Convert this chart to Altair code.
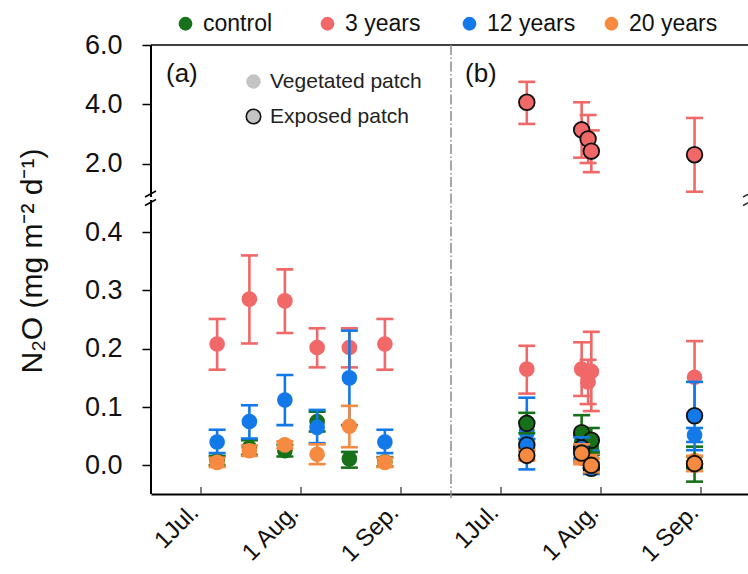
import json
import altair as alt
import pandas as pd

FONT = "Liberation Sans"

SERIES = ["control", "3 years", "12 years", "20 years"]
COLORS = ["#17701a", "#f06868", "#1479e8", "#f68a40"]
PATCHES = ["Vegetated patch", "Exposed patch"]
PATCH_STROKES = ["transparent", "#111111"]

# ---------------- panel (a): vegetated patches ----------------
a_dates = ["07-06", "07-16", "07-27", "08-06", "08-16", "08-27"]
a_control = [0.008, 0.030, 0.025, 0.075, 0.011, 0.006]
a_control_lo = [0.000, 0.018, 0.015, 0.058, -0.004, -0.002]
a_control_hi = [0.016, 0.043, 0.035, 0.092, 0.023, 0.014]
a_3y = [0.208, 0.285, 0.282, 0.202, 0.202, 0.208]
a_3y_lo = [0.164, 0.209, 0.227, 0.168, 0.168, 0.164]
a_3y_hi = [0.251, 0.360, 0.336, 0.235, 0.235, 0.251]
a_12y = [0.040, 0.075, 0.112, 0.065, 0.150, 0.040]
a_12y_lo = [0.021, 0.046, 0.069, 0.038, 0.069, 0.021]
a_12y_hi = [0.061, 0.103, 0.155, 0.095, 0.231, 0.061]
a_20y = [0.005, 0.025, 0.035, 0.019, 0.067, 0.005]
a_20y_lo = [-0.003, 0.016, 0.029, 0.002, 0.031, -0.003]
a_20y_hi = [0.013, 0.034, 0.041, 0.036, 0.102, 0.013]

# ---------------- panel (b): vegetated and exposed patches ----------------
b_dates = ["07-09", "07-09", "07-09", "07-09", "07-26", "07-26", "07-26", "07-26",
           "07-28", "07-29", "07-29", "07-29", "07-29", "08-30", "08-30", "08-30", "08-30",
           "07-09", "07-09", "07-09", "07-09", "07-26", "07-26", "07-26", "07-26",
           "07-28", "07-29", "07-29", "07-29", "07-29", "08-30", "08-30", "08-30", "08-30"]
b_series = ["control", "3 years", "12 years", "20 years", "control", "3 years", "12 years", "20 years",
            "3 years", "control", "3 years", "12 years", "20 years", "control", "3 years", "12 years", "20 years",
            "control", "3 years", "12 years", "20 years", "control", "3 years", "12 years", "20 years",
            "3 years", "control", "3 years", "12 years", "20 years", "control", "3 years", "12 years", "20 years"]
b_patch = ["Vegetated patch"] * 17 + ["Exposed patch"] * 17
b_mean = [0.060, 0.165, 0.055, 0.020, 0.040, 0.165, 0.022, 0.012,
          0.143, 0.030, 0.161, 0.010, 0.008, 0.005, 0.151, 0.052, 0.008,
          0.072, 4.07, 0.035, 0.017, 0.056, 3.14, 0.030, 0.021,
          2.83, 0.043, 2.42, -0.005, 0.000, 0.002, 2.30, 0.085, 0.003]
b_lo = [0.045, 0.123, -0.007, 0.010, 0.028, 0.119, 0.008, 0.002,
        0.105, 0.018, 0.093, -0.005, -0.004, -0.005, 0.089, 0.040, 0.000,
        0.055, 3.34, 0.025, 0.008, 0.027, 2.20, 0.012, 0.006,
        2.02, 0.022, 1.71, -0.015, -0.012, -0.028, 1.05, 0.026, -0.010]
b_hi = [0.075, 0.205, 0.116, 0.030, 0.052, 0.211, 0.036, 0.022,
        0.181, 0.042, 0.229, 0.025, 0.020, 0.015, 0.213, 0.064, 0.016,
        0.090, 4.76, 0.045, 0.026, 0.086, 4.07, 0.048, 0.036,
        3.64, 0.064, 3.12, 0.005, 0.012, 0.032, 3.54, 0.143, 0.016]

# ---------------- axes ----------------
x_tick_dates = ["07-01", "08-01", "09-01"]
x_tick_labels = ["1Jul.", "1 Aug.", "1 Sep."]
y_tick_values = [0.0, 0.1, 0.2, 0.3, 0.4, 2.0, 4.0, 6.0]
y_tick_labels = ["0.0", "0.1", "0.2", "0.3", "0.4", "2.0", "4.0", "6.0"]

# broken-axis geometry
W, H = 597, 449
PANEL_DAYS = 93
X_START = -15.5
X_END = X_START + W / (300.0 / PANEL_DAYS)
Y_BOTTOM, Y_TOP = -0.0492, 0.7209
UPPER_BASE, UPPER_K = 0.4667, 0.0508   # position of 1.0 and scale of the upper segment


def to_t(v):
    return v if v < 0.7 else UPPER_BASE + (v - 1.0) * UPPER_K


def day_pos(mmdd, panel):
    d = (pd.Timestamp("2000-" + mmdd) - pd.Timestamp("2000-07-01")).days
    return d + (PANEL_DAYS if panel == "b" else 0)


rows = []
a_sets = {
    "control": (a_control, a_control_lo, a_control_hi),
    "3 years": (a_3y, a_3y_lo, a_3y_hi),
    "12 years": (a_12y, a_12y_lo, a_12y_hi),
    "20 years": (a_20y, a_20y_lo, a_20y_hi),
}
for s, (m, lo, hi) in a_sets.items():
    for d, mv, lv, hv in zip(a_dates, m, lo, hi):
        rows.append(dict(xpos=day_pos(d, "a"), series=s, patch="Vegetated patch",
                         m=to_t(mv), lo=to_t(lv), hi=to_t(hv)))
for d, s, p, mv, lv, hv in zip(b_dates, b_series, b_patch, b_mean, b_lo, b_hi):
    rows.append(dict(xpos=day_pos(d, "b"), series=s, patch=p,
                     m=to_t(mv), lo=to_t(lv), hi=to_t(hv)))
df = pd.DataFrame(rows)

x_vals = [day_pos(d, p) for p in ("a", "b") for d in x_tick_dates]
x_labs = x_tick_labels * 2
y_vals = [round(to_t(v), 4) for v in y_tick_values]

x_axis = alt.Axis(values=x_vals, labelExpr=f"{json.dumps(x_labs)}[indexof({json.dumps(x_vals)}, datum.value)]",
                  ticks=False, domain=True, domainColor="black", domainWidth=2, grid=False, title=None,
                  labelAngle=-45, labelAlign="right", labelBaseline="top", labelOffset=-15,
                  labelFontSize=24, labelFont=FONT, labelColor="#111", labelPadding=6,
                  labelOverlap=False, labelFlush=False)
y_axis = alt.Axis(values=y_vals, labelExpr=f"{json.dumps(y_tick_labels)}[indexof({json.dumps(y_vals)}, datum.value)]",
                  tickSize=9, tickWidth=1.5, tickColor="black", domain=False, grid=False, title=None,
                  labelFontSize=27, labelFont=FONT, labelColor="#111", labelPadding=20, labelOverlap=False,
                  labelFlush=False)

X = alt.X("xpos:Q", scale=alt.Scale(domain=[X_START, X_END], nice=False, zero=False), axis=x_axis)


def Y(field):
    return alt.Y(f"{field}:Q", scale=alt.Scale(domain=[Y_BOTTOM, Y_TOP], nice=False, zero=False), axis=y_axis)


COLOR = alt.Color("series:N", scale=alt.Scale(domain=SERIES, range=COLORS),
                  legend=alt.Legend(orient="none", legendX=23, legendY=-33, direction="horizontal",
                                    columns=4, gridAlign="all", title=None, labelFontSize=23,
                                    labelFont=FONT, labelColor="#111", symbolSize=190, symbolType="circle",
                                    symbolStrokeWidth=0, labelOffset=6, columnPadding=24, padding=0))
STROKE = alt.Stroke("patch:N", scale=alt.Scale(domain=PATCHES, range=PATCH_STROKES),
                    legend=alt.Legend(orient="none", legendX=92, legendY=26, direction="vertical",
                                      title=None, labelFontSize=21, labelFont=FONT, labelColor="#222",
                                      symbolSize=210, symbolType="circle", symbolFillColor="#c4c4c4",
                                      symbolStrokeWidth=1.6, labelOffset=6, rowPadding=13, padding=0))

layers = []
for patch in PATCHES:
    for s, c in zip(SERIES, COLORS):
        sub = df[(df.patch == patch) & (df.series == s)]
        if sub.empty:
            continue
        base = alt.Chart(sub)
        layers.append(base.mark_rule(color=c, strokeWidth=2.6).encode(x=X, y=Y("lo"), y2="hi"))
        layers.append(base.mark_tick(color=c, orient="horizontal", size=17, thickness=2.6, opacity=1)
                      .encode(x=X, y=Y("lo")))
        layers.append(base.mark_tick(color=c, orient="horizontal", size=17, thickness=2.6, opacity=1)
                      .encode(x=X, y=Y("hi")))
        layers.append(base.mark_point(filled=True, shape="circle", size=245, strokeWidth=1.8, opacity=1)
                      .encode(x=X, y=Y("m"), color=COLOR, stroke=STROKE))

# inner x ticks
ticks = alt.Chart(pd.DataFrame({"xpos": x_vals})).mark_rule(color="#555", strokeWidth=1.5).encode(
    x=X, y=alt.value(H - 7), y2=alt.value(H))

# frame pieces
frame = [
    alt.Chart().mark_rule(color="black", strokeWidth=1.5).encode(x=alt.value(0), x2=alt.value(W), y=alt.value(0)),
    alt.Chart().mark_rule(color="black", strokeWidth=2).encode(x=alt.value(0), y=alt.value(0), y2=alt.value(152)),
    alt.Chart().mark_rule(color="black", strokeWidth=2).encode(x=alt.value(0), y=alt.value(155), y2=alt.value(H)),
    alt.Chart().mark_rule(color="black", strokeWidth=1.5).encode(x=alt.value(-6), x2=alt.value(5), y=alt.value(152), y2=alt.value(146)),
    alt.Chart().mark_rule(color="black", strokeWidth=1.5).encode(x=alt.value(-6), x2=alt.value(5), y=alt.value(160.5), y2=alt.value(154.5)),
    alt.Chart().mark_rule(color="#333", strokeWidth=1.5).encode(x=alt.value(592), x2=alt.value(603), y=alt.value(152), y2=alt.value(146)),
    alt.Chart().mark_rule(color="#333", strokeWidth=1.5).encode(x=alt.value(592), x2=alt.value(603), y=alt.value(160.5), y2=alt.value(154.5)),
    alt.Chart().mark_rule(color="#8a8a8a", strokeWidth=1.5, strokeDash=[10, 2.5, 1.5, 2.5]).encode(
        x=alt.value(300), y=alt.value(0), y2=alt.value(H + 4)),
]

texts = [
    alt.Chart().mark_text(text="(a)", fontSize=26, font=FONT, color="#111", align="left", baseline="alphabetic")
    .encode(x=alt.value(15), y=alt.value(37)),
    alt.Chart().mark_text(text="(b)", fontSize=26, font=FONT, color="#111", align="left", baseline="alphabetic")
    .encode(x=alt.value(314), y=alt.value(37)),
    alt.Chart().mark_text(text="N\u2082O (mg m\u207b\u00b2 d\u207b\u00b9)", fontSize=30, font=FONT, color="#111",
                          angle=270, align="center", baseline="middle")
    .encode(x=alt.value(-118), y=alt.value(216)),
]

chart = alt.layer(*frame, ticks, *layers, *texts).properties(
    width=W, height=H,
    autosize=alt.AutoSizeParams(type="none"),
    padding={"left": 151, "top": 45, "right": 0, "bottom": 80},
    background="white",
).configure_view(strokeWidth=0)

chart.save("out.html", embed_options={"renderer": "svg", "actions": False})
